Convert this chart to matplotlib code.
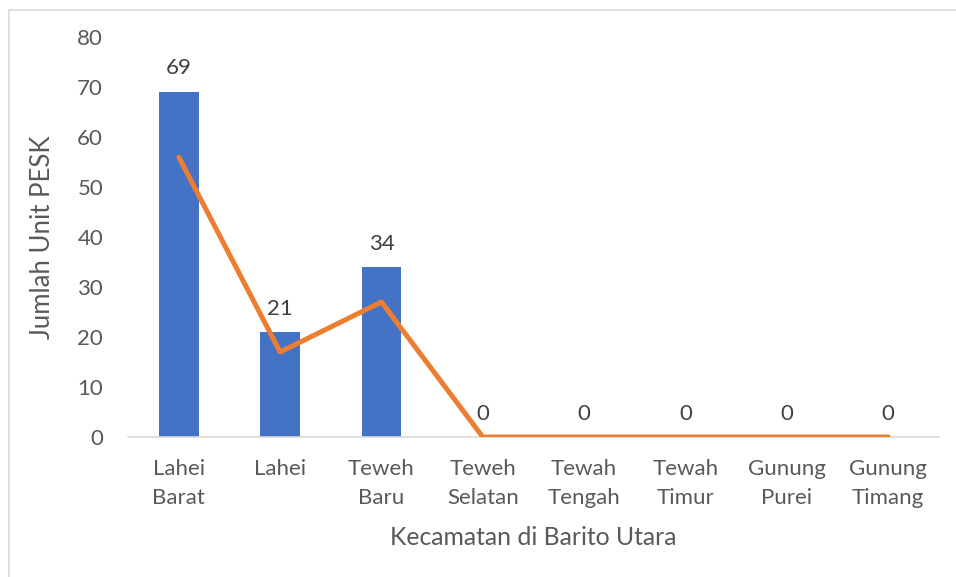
import matplotlib.pyplot as plt
from matplotlib.patches import Rectangle
import numpy as np

# data
kecamatan = ['Lahei\nBarat', 'Lahei', 'Teweh\nBaru', 'Teweh\nSelatan', 'Tewah\nTengah',
             'Tewah\nTimur', 'Gunung\nPurei', 'Gunung\nTimang']
unit_pesk = [69, 21, 34, 0, 0, 0, 0, 0]
garis = [56, 17, 27, 0, 0, 0, 0, 0]

plt.rcParams['font.family'] = ['Lato', 'DejaVu Sans']

fig = plt.figure(figsize=(9.56, 5.77), dpi=100)
ax = fig.add_axes([0.134, 0.2426, 0.848, 0.6933])

x = np.arange(len(kecamatan))
bars = ax.bar(x, unit_pesk, width=0.39, color='#4472C4', zorder=2)
ax.plot(x, garis, color='#ED7D31', lw=3.6, solid_capstyle='round', zorder=3)

for xi, v in zip(x, unit_pesk):
    ax.text(xi, v + 2.7, str(v), ha='center', va='bottom', fontsize=16, color='#404040')

ax.set_xlim(-0.5, len(kecamatan) - 0.5)
ax.set_ylim(0, 80)
ax.set_yticks(range(0, 81, 10))
ax.set_xticks(x)
ax.set_xticklabels(kecamatan, fontsize=16, color='#595959', linespacing=1.55)
ax.tick_params(axis='y', labelsize=16, labelcolor='#595959', length=0, pad=18)
ax.tick_params(axis='x', length=0, pad=16)

for s in ['top', 'right', 'left']:
    ax.spines[s].set_visible(False)
ax.spines['bottom'].set_color('#D9D9D9')
ax.spines['bottom'].set_linewidth(1.2)

ax.set_ylabel('Jumlah Unit PESK', fontsize=18.5, color='#595959', labelpad=16)
ax.set_xlabel('Kecamatan di Barito Utara', fontsize=17.8, color='#595959', labelpad=13)

# chart area border
fig.patches.append(Rectangle((0.009, -0.01), 1.0, 0.993, transform=fig.transFigure,
                             fill=False, edgecolor='#D9D9D9', lw=1.2))

fig.savefig('out.png', dpi=100)
